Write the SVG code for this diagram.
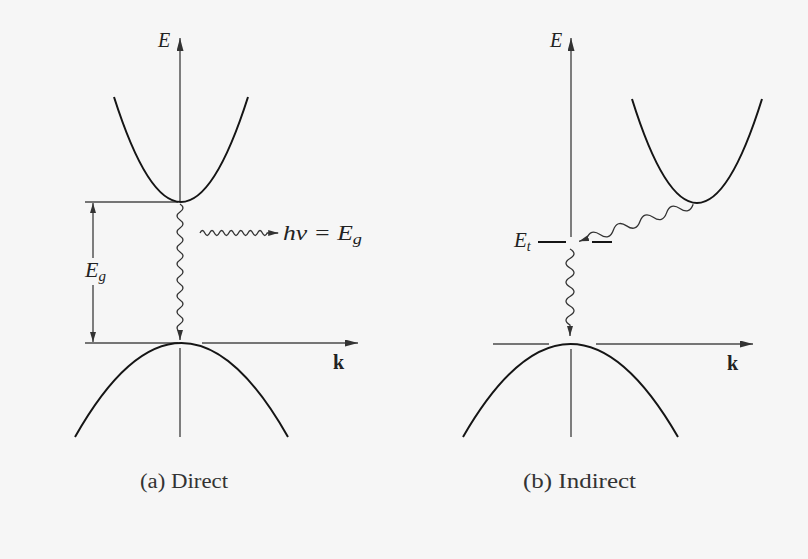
<svg xmlns="http://www.w3.org/2000/svg" width="808" height="559" viewBox="0 0 808 559">
<style>
.ax{stroke:#4a4a4a;stroke-width:1.4;fill:none}
.cv{stroke:#151515;stroke-width:2;fill:none}
.wv{stroke:#333;stroke-width:1.3;fill:none}
.it{font-family:"Liberation Serif",serif;font-style:italic;fill:#222}
.bd{font-family:"Liberation Serif",serif;font-weight:bold;fill:#222}
.cap{font-family:"Liberation Serif",serif;fill:#333}
</style>
<defs>
<marker id="big" markerUnits="userSpaceOnUse" markerWidth="14" markerHeight="8" refX="13" refY="3.5" orient="auto-start-reverse"><path d="M0,0 L13,3.5 L0,7 z" fill="#333"/></marker>
<marker id="small" markerUnits="userSpaceOnUse" markerWidth="11" markerHeight="7" refX="10" refY="3" orient="auto-start-reverse"><path d="M0,0 L10,3 L0,6 z" fill="#333"/></marker>
</defs>
<rect width="808" height="559" fill="#f6f6f6"/>

<g id="direct">
  <g id="direct-axes">
    <line class="ax" x1="180" y1="202" x2="180" y2="38" marker-end="url(#big)"/>
    <line class="ax" x1="180" y1="348" x2="180" y2="437"/>
    <line class="ax" x1="85" y1="202" x2="178" y2="202"/>
    <line class="ax" x1="85" y1="343" x2="178" y2="343"/>
    <line class="ax" x1="202" y1="343" x2="358" y2="343" marker-end="url(#big)"/>
  </g>
  <g id="direct-bands">
    <path class="cv" d="M114,97 Q181,307 248,97"/>
    <path class="cv" d="M75,437 Q181.5,249 288,437"/>
  </g>
  <g id="direct-gap">
    <line class="ax" x1="93" y1="258" x2="93" y2="203" marker-end="url(#small)"/>
    <line class="ax" x1="93" y1="285" x2="93" y2="342" marker-end="url(#small)"/>
  </g>
  <g id="direct-labels">
    <text class="it" x="158" y="47" font-size="20">E</text>
    <text class="it" x="85" y="277" font-size="22">E<tspan font-size="15" dy="4">g</tspan></text>
    <text class="bd" x="333" y="369" font-size="20">k</text>
    <text class="it" x="283" y="240" font-size="21" textLength="79" lengthAdjust="spacingAndGlyphs">hν = E<tspan font-size="15" dy="4">g</tspan></text>
    <text class="cap" x="140" y="488" font-size="20" textLength="88" lengthAdjust="spacingAndGlyphs">(a) Direct</text>
  </g>
</g>

<g id="indirect">
  <g id="indirect-axes">
    <line class="ax" x1="571" y1="237" x2="571" y2="38" marker-end="url(#big)"/>
    <line class="ax" x1="571" y1="349" x2="571" y2="437"/>
    <line class="ax" x1="493" y1="344" x2="549" y2="344"/>
    <line class="ax" x1="596" y1="344" x2="753" y2="344" marker-end="url(#big)"/>
  </g>
  <g id="indirect-bands">
    <path class="cv" d="M632,99 Q697,307 762,99"/>
    <path class="cv" d="M463,437 Q570.5,251 678,437"/>
  </g>
  <g id="trap-level">
    <line class="cv" x1="538" y1="242" x2="566" y2="242" stroke-width="1.7"/>
    <line class="cv" x1="592" y1="242" x2="612" y2="242" stroke-width="1.7"/>
  </g>
  <g id="indirect-labels">
    <text class="it" x="550" y="47" font-size="20">E</text>
    <text class="it" x="514" y="247" font-size="21">E<tspan font-size="14" dy="4">t</tspan></text>
    <text class="bd" x="727" y="370" font-size="20">k</text>
    <text class="cap" x="523" y="488" font-size="20" textLength="113" lengthAdjust="spacingAndGlyphs">(b) Indirect</text>
  </g>
</g>

<g id="connectors">
  <path class="wv" d="M180,204 q6,4 0,8 t0,8 t0,8 t0,8 t0,8 t0,8 t0,8 t0,8 t0,8 t0,8 t0,8 t0,8 t0,8 t0,8 t0,8 t0,8 l0,8" marker-end="url(#small)"/>
  <path class="wv" d="M200,233 q2.4,-5 4.8,0 t4.8,0 t4.8,0 t4.8,0 t4.8,0 t4.8,0 t4.8,0 t4.8,0 t4.8,0 t4.8,0 t4.8,0 t4.8,0 t4.8,0 t4.8,0 l11,0" marker-end="url(#small)"/>
  <path class="wv" transform="translate(697,203) rotate(162)" d="M4,0 q7,-9 14,0 t14,0 t14,0 t14,0 t14,0 t14,0 t14,0 t14,0 l8,0" marker-end="url(#small)"/>
  <path class="wv" d="M570,249 q8,4.75 0,9.5 t0,9.5 t0,9.5 t0,9.5 t0,9.5 t0,9.5 t0,9.5 t0,9.5 l0,11" marker-end="url(#small)"/>
</g>
</svg>
